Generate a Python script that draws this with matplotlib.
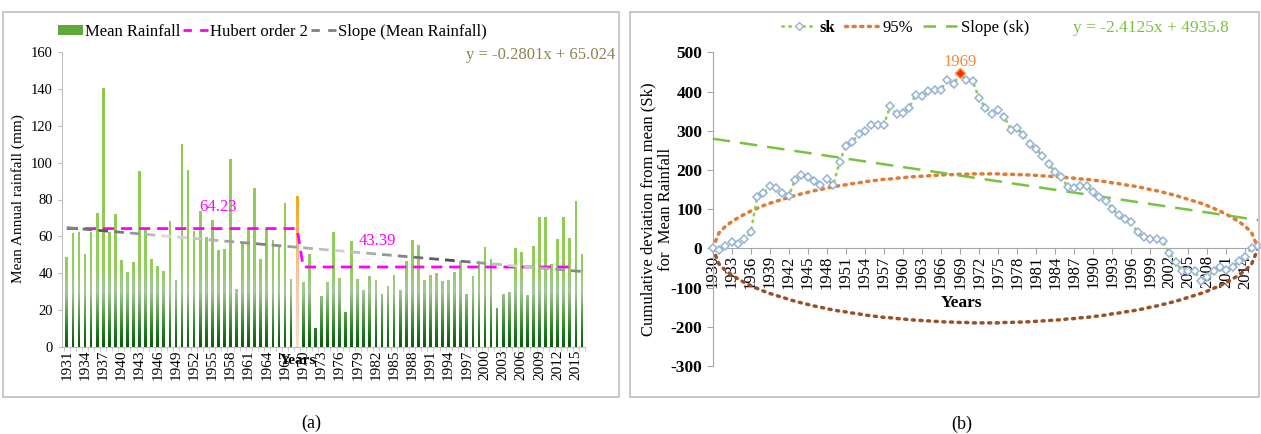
import numpy as np
import matplotlib
matplotlib.use("Agg")
import matplotlib.pyplot as plt
from matplotlib.colors import LinearSegmentedColormap
from matplotlib.patches import PathPatch, Patch, Rectangle
from matplotlib.path import Path
from matplotlib.lines import Line2D

plt.rcParams['font.family'] = ['Liberation Serif', 'DejaVu Serif']
plt.rcParams['axes.unicode_minus'] = False

# ---- data (a): mean annual rainfall ----
years_a = list(range(1931, 2017))
rain = [48.6, 62.0, 62.5, 50.7, 62.5, 72.6, 140.4, 62.5, 72.0, 47.0,
        40.8, 46.0, 95.7, 63.8, 48.0, 43.8, 41.3, 68.5, 36.6, 110.0,
        96.2, 63.0, 73.5, 59.4, 69.0, 52.7, 53.3, 102.0, 31.3, 56.3,
        64.5, 86.2, 47.5, 64.0, 58.3, 54.3, 78.3, 37.1, 82.0, 35.5,
        50.7, 10.5, 27.7, 35.5, 62.5, 37.5, 18.8, 57.4, 37.1, 30.8,
        38.6, 36.4, 28.6, 33.2, 39.0, 30.8, 46.9, 58.0, 55.4, 36.4,
        39.0, 40.0, 36.0, 36.4, 40.8, 46.9, 28.6, 38.6, 46.9, 54.0,
        48.0, 21.4, 28.6, 29.7, 53.6, 51.6, 28.1, 54.7, 70.7, 70.7,
        44.9, 58.5, 70.7, 58.9, 79.3, 50.7]
change_year = 1969
hubert_years = [1931, 1969, 1970, 2015]
hubert_vals = [64.23, 64.23, 43.39, 43.39]
slope_a = (-0.2801, 65.024)   # y = a*x + b, x = 1..n

# ---- data (b): cumulative deviation ----
years_b = list(range(1930, 2017))
sk = [0, -4, 5, 15, 11, 23, 41, 130, 140, 160,
      153, 140, 134, 175, 188, 183, 173, 162, 177, 162,
      219, 262, 272, 291, 299, 315, 315, 315, 363, 342,
      346, 359, 392, 388, 401, 403, 405, 430, 418, 446,
      429, 426, 384, 358, 342, 352, 335, 302, 306, 289,
      266, 253, 236, 215, 194, 181, 157, 153, 160, 160,
      143, 130, 122, 101, 85, 75, 66, 41, 28, 23,
      24, 20, -11, -35, -57, -57, -58, -82, -72, -58,
      -48, -55, -48, -33, -22, 2, 5]
ellipse_upper = [0, 40, 56, 68, 78, 87, 95, 102, 109, 115,
                 120, 125, 130, 135, 139, 143, 147, 150, 154, 157,
                 160, 162, 165, 167, 170, 172, 174, 176, 177, 179,
                 180, 182, 183, 184, 185, 186, 187, 188, 188, 189,
                 189, 190, 190, 190, 190, 190, 189, 189, 188, 188,
                 187, 186, 185, 184, 183, 182, 180, 179, 177, 176,
                 174, 172, 170, 167, 165, 162, 160, 157, 154, 150,
                 147, 143, 139, 135, 130, 125, 120, 115, 109, 102,
                 95, 87, 78, 68, 56, 40, 0]
slope_b = (-2.4125, 4935.8)
peak_year = 1969

W, H = 1261, 434
fig = plt.figure(figsize=(W / 100, H / 100), dpi=100)


def fx(x):
    return x / W


def fy(y):
    return 1 - y / H


# panel frames
for x0, x1 in [(3, 619), (630, 1259)]:
    fig.add_artist(Rectangle((fx(x0), fy(397)), fx(x1 - x0), fy(12) - fy(397),
                             transform=fig.transFigure, fill=False,
                             edgecolor='#BFBFBF', linewidth=1.2))

# ================= panel (a) =================
ax1 = fig.add_axes([fx(62), fy(347), fx(585 - 62), fy(52) - fy(347)])
bars = ax1.bar(years_a, rain, width=0.45, color='none', edgecolor='none')
green_paths, orange_paths = [], []
for yr, b in zip(years_a, bars):
    p = b.get_path().transformed(b.get_patch_transform())
    (orange_paths if yr == change_year else green_paths).append(p)

gcmap = LinearSegmentedColormap.from_list('g', [
    (0.0, '#0A5A0A'), (8 / 160, '#1F7A1F'), (18 / 160, '#5C9E4C'),
    (30 / 160, '#A4C79A'), (42 / 160, '#93CD5C'), (1.0, '#8CC84B')])
ocmap = LinearSegmentedColormap.from_list('o', ['#F9DCD6', '#F8C39A', '#F5A418'])

grad = np.linspace(0, 1, 256).reshape(-1, 1)
for paths, cmap, top in [(green_paths, gcmap, 160), (orange_paths, ocmap, rain[years_a.index(change_year)])]:
    clip = PathPatch(Path.make_compound_path(*paths), transform=ax1.transData,
                     facecolor='none', edgecolor='none')
    ax1.add_patch(clip)
    im = ax1.imshow(grad, extent=[1930, 2017, 0, top], origin='lower',
                    aspect='auto', cmap=cmap, zorder=1)
    im.set_clip_path(clip)

ax1.plot(hubert_years, hubert_vals, color='#FF00FF', lw=2, ls=(0, (4, 2.5)), zorder=3)

# trend line as dashes with a grey gradient
idx = np.arange(1, len(years_a) + 1)
tx = np.array(years_a, dtype=float)
ty = slope_a[0] * idx + slope_a[1]
shade_x = [1931, 1937, 1948, 1963, 1976, 1994, 2004, 2016]
shade_v = [0.55, 0.35, 0.88, 0.50, 0.82, 0.30, 0.85, 0.50]
d = 1931.0
while d < 2016:
    e = min(d + 1.6, 2016)
    g = np.interp((d + e) / 2, shade_x, shade_v)
    ax1.plot([d, e], np.interp([d, e], tx, ty), color=str(g), lw=2, solid_capstyle='butt', zorder=3)
    d += 2.6

ax1.text(1956, 76, '64.23', color='#FF00FF', fontsize=12, ha='center', va='center')
ax1.text(1982.3, 57.6, '43.39', color='#FF00FF', fontsize=12, ha='center', va='center')

ax1.set_xlim(1930.2, 2016.5)
ax1.set_ylim(0, 160)
ax1.set_yticks(range(0, 161, 20))
ax1.set_xticks(range(1931, 2016, 3))
ax1.set_xticklabels([str(y) for y in range(1931, 2016, 3)], rotation=90, fontsize=11)
ax1.set_xticks(np.arange(1930.5, 2016.6, 1), minor=True)
ax1.tick_params(axis='x', which='major', length=0, pad=2)
ax1.tick_params(axis='x', which='minor', length=3, color='#BFBFBF')
ax1.tick_params(axis='y', labelsize=10.5, length=3, color='#BFBFBF')
for s in ['top', 'right']:
    ax1.spines[s].set_visible(False)
for s in ['left', 'bottom']:
    ax1.spines[s].set_color('#BFBFBF')
fig.text(fx(18), fy(199), 'Mean Annual rainfall (mm)', fontsize=11, rotation=90,
         ha='center', va='center')
fig.text(fx(298), fy(361), 'Years', fontsize=11, fontweight='bold', ha='center', va='center')
fig.text(fx(615), fy(55), 'y = -0.2801x + 65.024', color='#8C8150', fontsize=12,
         ha='right', va='center')

h1 = [Patch(facecolor='#5FA83A', edgecolor='none'),
      Line2D([], [], color='#FF00FF', lw=2, ls=(0, (3, 3))),
      Line2D([], [], color='#808080', lw=2, ls=(0, (3, 3)))]
fig.legend(h1, ['Mean Rainfall', 'Hubert order 2', 'Slope (Mean Rainfall)'],
           loc='center left', bbox_to_anchor=(fx(58), fy(32)), ncol=3, frameon=False,
           fontsize=12, handlelength=1.5, handleheight=0.6, handletextpad=0.1,
           columnspacing=0.2, borderpad=0, borderaxespad=0)

# ================= panel (b) =================
ax2 = fig.add_axes([fx(712.7), fy(366), fx(1258 - 712.7), fy(52.3) - fy(366)])
ax2.spines['bottom'].set_position(('data', 0))
yb = np.array(years_b, dtype=float)
up = np.array(ellipse_upper)
ax2.plot(yb, up, color='#E07A35', lw=2.5, ls=(0, (0.6, 1.6)), dash_capstyle='round', clip_on=False)
ax2.plot(yb, -up, color='#9C5026', lw=2.5, ls=(0, (0.6, 1.6)), dash_capstyle='round', clip_on=False)
ax2.plot(yb, slope_b[0] * yb + slope_b[1], color='#7AC143', lw=1.8, ls=(0, (7, 4)), clip_on=False)
ax2.plot(years_b, sk, color='#92D050', lw=2, ls=(0, (0.5, 2)), dash_capstyle='round',
         marker='D', markersize=4.2, markerfacecolor='white', markeredgecolor='#95B3D7',
         markeredgewidth=1.1, clip_on=False, zorder=4)
pk = sk[years_b.index(peak_year)]
ax2.plot([peak_year], [pk], marker='D', markersize=5, color='#FF2A00',
         markeredgecolor='#F79646', zorder=5)
ax2.text(peak_year, pk + 30, str(peak_year), color='#F08A3C', fontsize=12, ha='center', va='center')

ax2.set_xlim(1930, 2016)
ax2.set_ylim(-300, 500)
ax2.set_yticks(range(-300, 501, 100))
ax2.set_xticks(range(1930, 2016, 3))
ax2.set_xticklabels([str(y) for y in range(1930, 2016, 3)], rotation=90, fontsize=12)
for s in ['top', 'right']:
    ax2.spines[s].set_visible(False)
for s in ['left', 'bottom']:
    ax2.spines[s].set_color('#A6A6A6')
ax2.tick_params(axis='x', length=4, color='#A6A6A6', pad=1)
ax2.tick_params(axis='y', length=4, color='#A6A6A6', labelsize=12.5)
for t in ax2.get_yticklabels():
    t.set_fontweight('bold')
fig.text(fx(657), fy(209), 'Cumulative deviation from mean (Sk)\nfor  Mean Rainfall',
         fontsize=12, rotation=90, ha='center', va='center', linespacing=1.1,
         multialignment='center')
fig.text(fx(962), fy(303), 'Years', fontsize=12.5, fontweight='bold', ha='center', va='center')
fig.text(fx(1073), fy(28), 'y = -2.4125x + 4935.8', color='#7AC143', fontsize=12.5,
         ha='left', va='center')

h2 = [Line2D([], [], color='#92D050', lw=2, ls=(0, (0.5, 2)), dash_capstyle='round',
             marker='D', markersize=4.2, markerfacecolor='white', markeredgecolor='#95B3D7'),
      Line2D([], [], color='#E07A35', lw=2.5, ls=(0, (0.6, 1.6)), dash_capstyle='round'),
      Line2D([], [], color='#7AC143', lw=1.8, ls=(0, (5, 4)))]
leg2 = fig.legend(h2, ['sk', '95%', 'Slope (sk)'], loc='center left',
                  bbox_to_anchor=(fx(782), fy(28)), ncol=3, frameon=False,
                  handlelength=2.0, handletextpad=0.25, columnspacing=0.6, borderpad=0,
                  borderaxespad=0, prop={'size': 12})
leg2.get_texts()[0].set_fontweight('bold')

fig.text(fx(311), fy(423), '(a)', fontsize=13, ha='center', va='center')
fig.text(fx(962), fy(424), '(b)', fontsize=13, ha='center', va='center')

fig.savefig('out.png', dpi=100)
